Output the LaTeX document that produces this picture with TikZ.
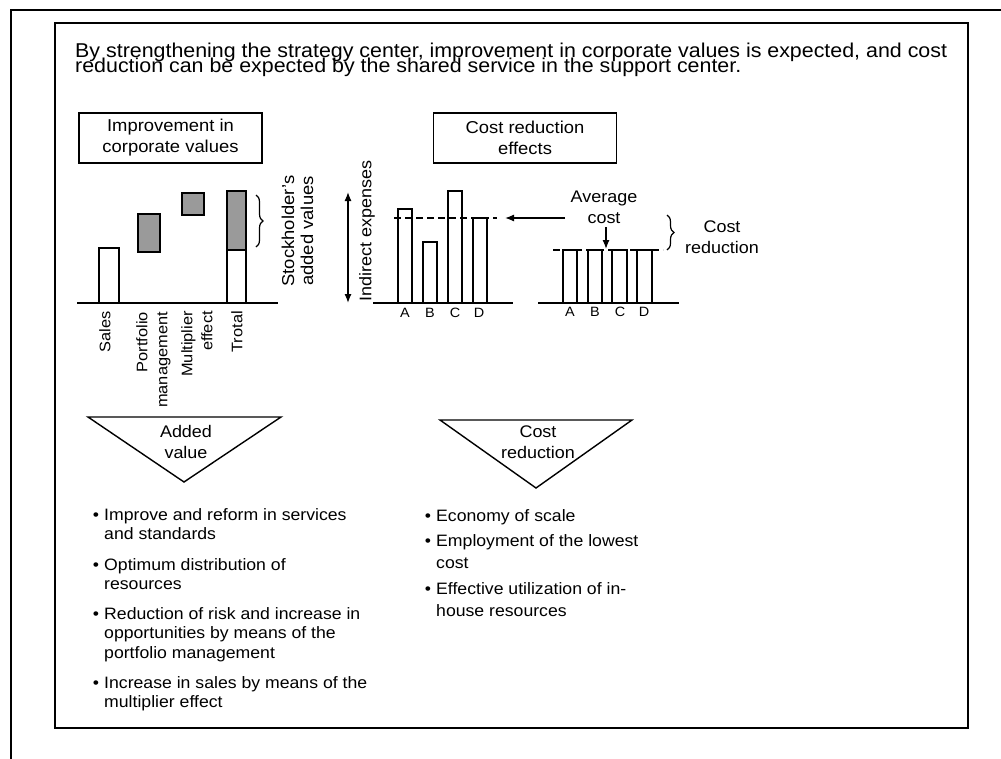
\documentclass[tikz,border=0pt]{standalone}
\usepackage{fontspec}
\setmainfont{Liberation Sans}[FakeStretch=1.07]
\usetikzlibrary{arrows.meta,decorations.pathreplacing}
\definecolor{barGray}{HTML}{9A9A9A}
\begin{document}
\begin{tikzpicture}[x=1pt,y=-1pt,
  frameline/.style={line width=1.5},
  titletext/.style={font=\fontsize{20}{14.5}\selectfont, inner sep=0, anchor=base west},
  boxlabel/.style={draw, line width=1.4, minimum width=183, minimum height=50, align=center, inner sep=0, font=\fontsize{17.2}{21}\selectfont},
  whitebar/.style={draw, line width=1.3, fill=white},
  graybar/.style={draw, line width=1.9, fill=barGray},
  axisline/.style={line width=1.4},
  rotlabel/.style={rotate=90, inner sep=0, font=\fontsize{15.3}{20}\selectfont},
  label/.style={inner sep=0, align=center, font=\fontsize{16.8}{21}\selectfont},
  letter/.style={inner sep=0, font=\fontsize{13.5}{15}\selectfont},
  bracestyle/.style={decorate, decoration={brace, amplitude=7}, line width=1.2},
  arrowline/.style={line width=1.3, -{Latex[length=9,width=7]}},
  dashline/.style={line width=1.3, dash pattern=on 7pt off 4pt},
  tri/.style={line width=1.4},
  bullettext/.style={inner sep=0, anchor=base west, align=left, font=\fontsize{16.5}{19.5}\selectfont},
  bullettextB/.style={inner sep=0, anchor=base west, align=left, font=\fontsize{16.5}{22}\selectfont},
  dot/.style={inner sep=0, anchor=base, font=\fontsize{16.5}{19.5}\selectfont}
]
\useasboundingbox (0,0) rectangle (1001,758);
\fill[white] (0,0) rectangle (1001,758);

% frames
\draw[frameline] (11,770) -- (11,10) -- (1010,10);
\draw[frameline] (55,23) rectangle (968,728);

% title
\node[titletext] (t1) at (75,57) {By strengthening the strategy center, improvement in corporate values is expected, and cost};
\node[titletext] (t2) at (75,72.5) {reduction can be expected by the shared service in the support center.};

% header boxes
\node[boxlabel] (box1) at (170.5,138) {Improvement in\\corporate values};
\node[boxlabel] (box2) at (525,138) {Cost reduction\\effects};

% ---- chart 1
\draw[whitebar] (99,248) rectangle (119,303);
\draw[graybar] (138,214) rectangle (160,252);
\draw[graybar] (182,193) rectangle (204,215);
\draw[whitebar] (227,250) rectangle (246,303);
\draw[graybar] (227,191) rectangle (246,250);
\draw[axisline] (77,303) -- (278,303);
\draw[bracestyle] (256,195) -- (256,247);

\node[rotlabel, anchor=east] (sales) at (105,311) {Sales};
\node[rotlabel, anchor=east, align=right] (port) at (153.5,312) {Portfolio\\management};
\node[rotlabel, anchor=east, align=right] (mult) at (197,311) {Multiplier\\effect};
\node[rotlabel, anchor=east] (total) at (237,311) {Trotal};

\node[rotlabel, align=center, font=\fontsize{17.2}{19}\selectfont] (stock) at (297.5,231) {Stockholder's\\added values};

% ---- chart 2
\coordinate (ieTop) at (348,192);
\coordinate (ieBot) at (348,303);
\draw[line width=1.3, {Latex[length=9,width=7]}-{Latex[length=9,width=7]}] (ieTop) -- (ieBot);
\node[rotlabel, font=\fontsize{16.8}{20}\selectfont] (indirect) at (367,231) {Indirect expenses};

\draw[whitebar] (398,209) rectangle (412,303);
\draw[whitebar] (423,242) rectangle (437,303);
\draw[whitebar] (448,191) rectangle (462,303);
\draw[whitebar] (473,218) rectangle (487,303);
\draw[axisline] (373,303) -- (513,303);
\draw[dashline] (394,218) -- (497,218);
\node[letter] (la1) at (405,313) {A};
\node[letter] (lb1) at (430,313) {B};
\node[letter] (lc1) at (455,313) {C};
\node[letter] (ld1) at (479,313) {D};

\coordinate (avgStart) at (565,218);
\coordinate (avgEnd) at (505,218);
\draw[arrowline] (avgStart) -- (avgEnd);

\node[label] (avg) at (604,207) {Average\\cost};
\coordinate (avgArrTop) at (606,227);
\coordinate (avgArrBot) at (606,249);
\draw[arrowline] (avgArrTop) -- (avgArrBot);

\draw[whitebar] (563,250) rectangle (577,303);
\draw[whitebar] (588,250) rectangle (602,303);
\draw[whitebar] (612,250) rectangle (627,303);
\draw[whitebar] (637,250) rectangle (652,303);
\draw[dashline] (553,250) -- (663,250);
\draw[axisline] (538,303) -- (679,303);
\node[letter] (la2) at (570,312) {A};
\node[letter] (lb2) at (595,312) {B};
\node[letter] (lc2) at (620,312) {C};
\node[letter] (ld2) at (644,312) {D};
\draw[bracestyle] (667,215) -- (667,250);
\node[label] (costred) at (722,237) {Cost\\reduction};

% ---- triangles
\draw[tri] (88,417) -- (281,417) -- (184,482) -- cycle;
\node[label] (added) at (186,442) {Added\\value};
\draw[tri] (440,420) -- (632,420) -- (536,488) -- cycle;
\node[label] (costred2) at (538,442) {Cost\\reduction};

% ---- bullets left (base anchor = last line baseline)
\node[dot] (d1) at (96,520) {•};
\node[bullettext] (b1) at (104,539.5) {Improve and reform in services\\and standards};
\node[dot] (d2) at (96,570) {•};
\node[bullettext] (b2) at (104,589.5) {Optimum distribution of\\resources};
\node[dot] (d3) at (96,619) {•};
\node[bullettext] (b3) at (104,658) {Reduction of risk and increase in\\opportunities by means of the\\portfolio management};
\node[dot] (d4) at (96,688) {•};
\node[bullettext] (b4) at (104,707.5) {Increase in sales by means of the\\multiplier effect};

% ---- bullets right
\node[dot] (e1) at (428,521) {•};
\node[bullettextB] (c1) at (436,521) {Economy of scale};
\node[dot] (e2) at (428,546) {•};
\node[bullettextB] (c2) at (436,568) {Employment of the lowest\\cost};
\node[dot] (e3) at (428,594) {•};
\node[bullettextB] (c3) at (436,616) {Effective utilization of in-\\house resources};
\end{tikzpicture}
\end{document}
